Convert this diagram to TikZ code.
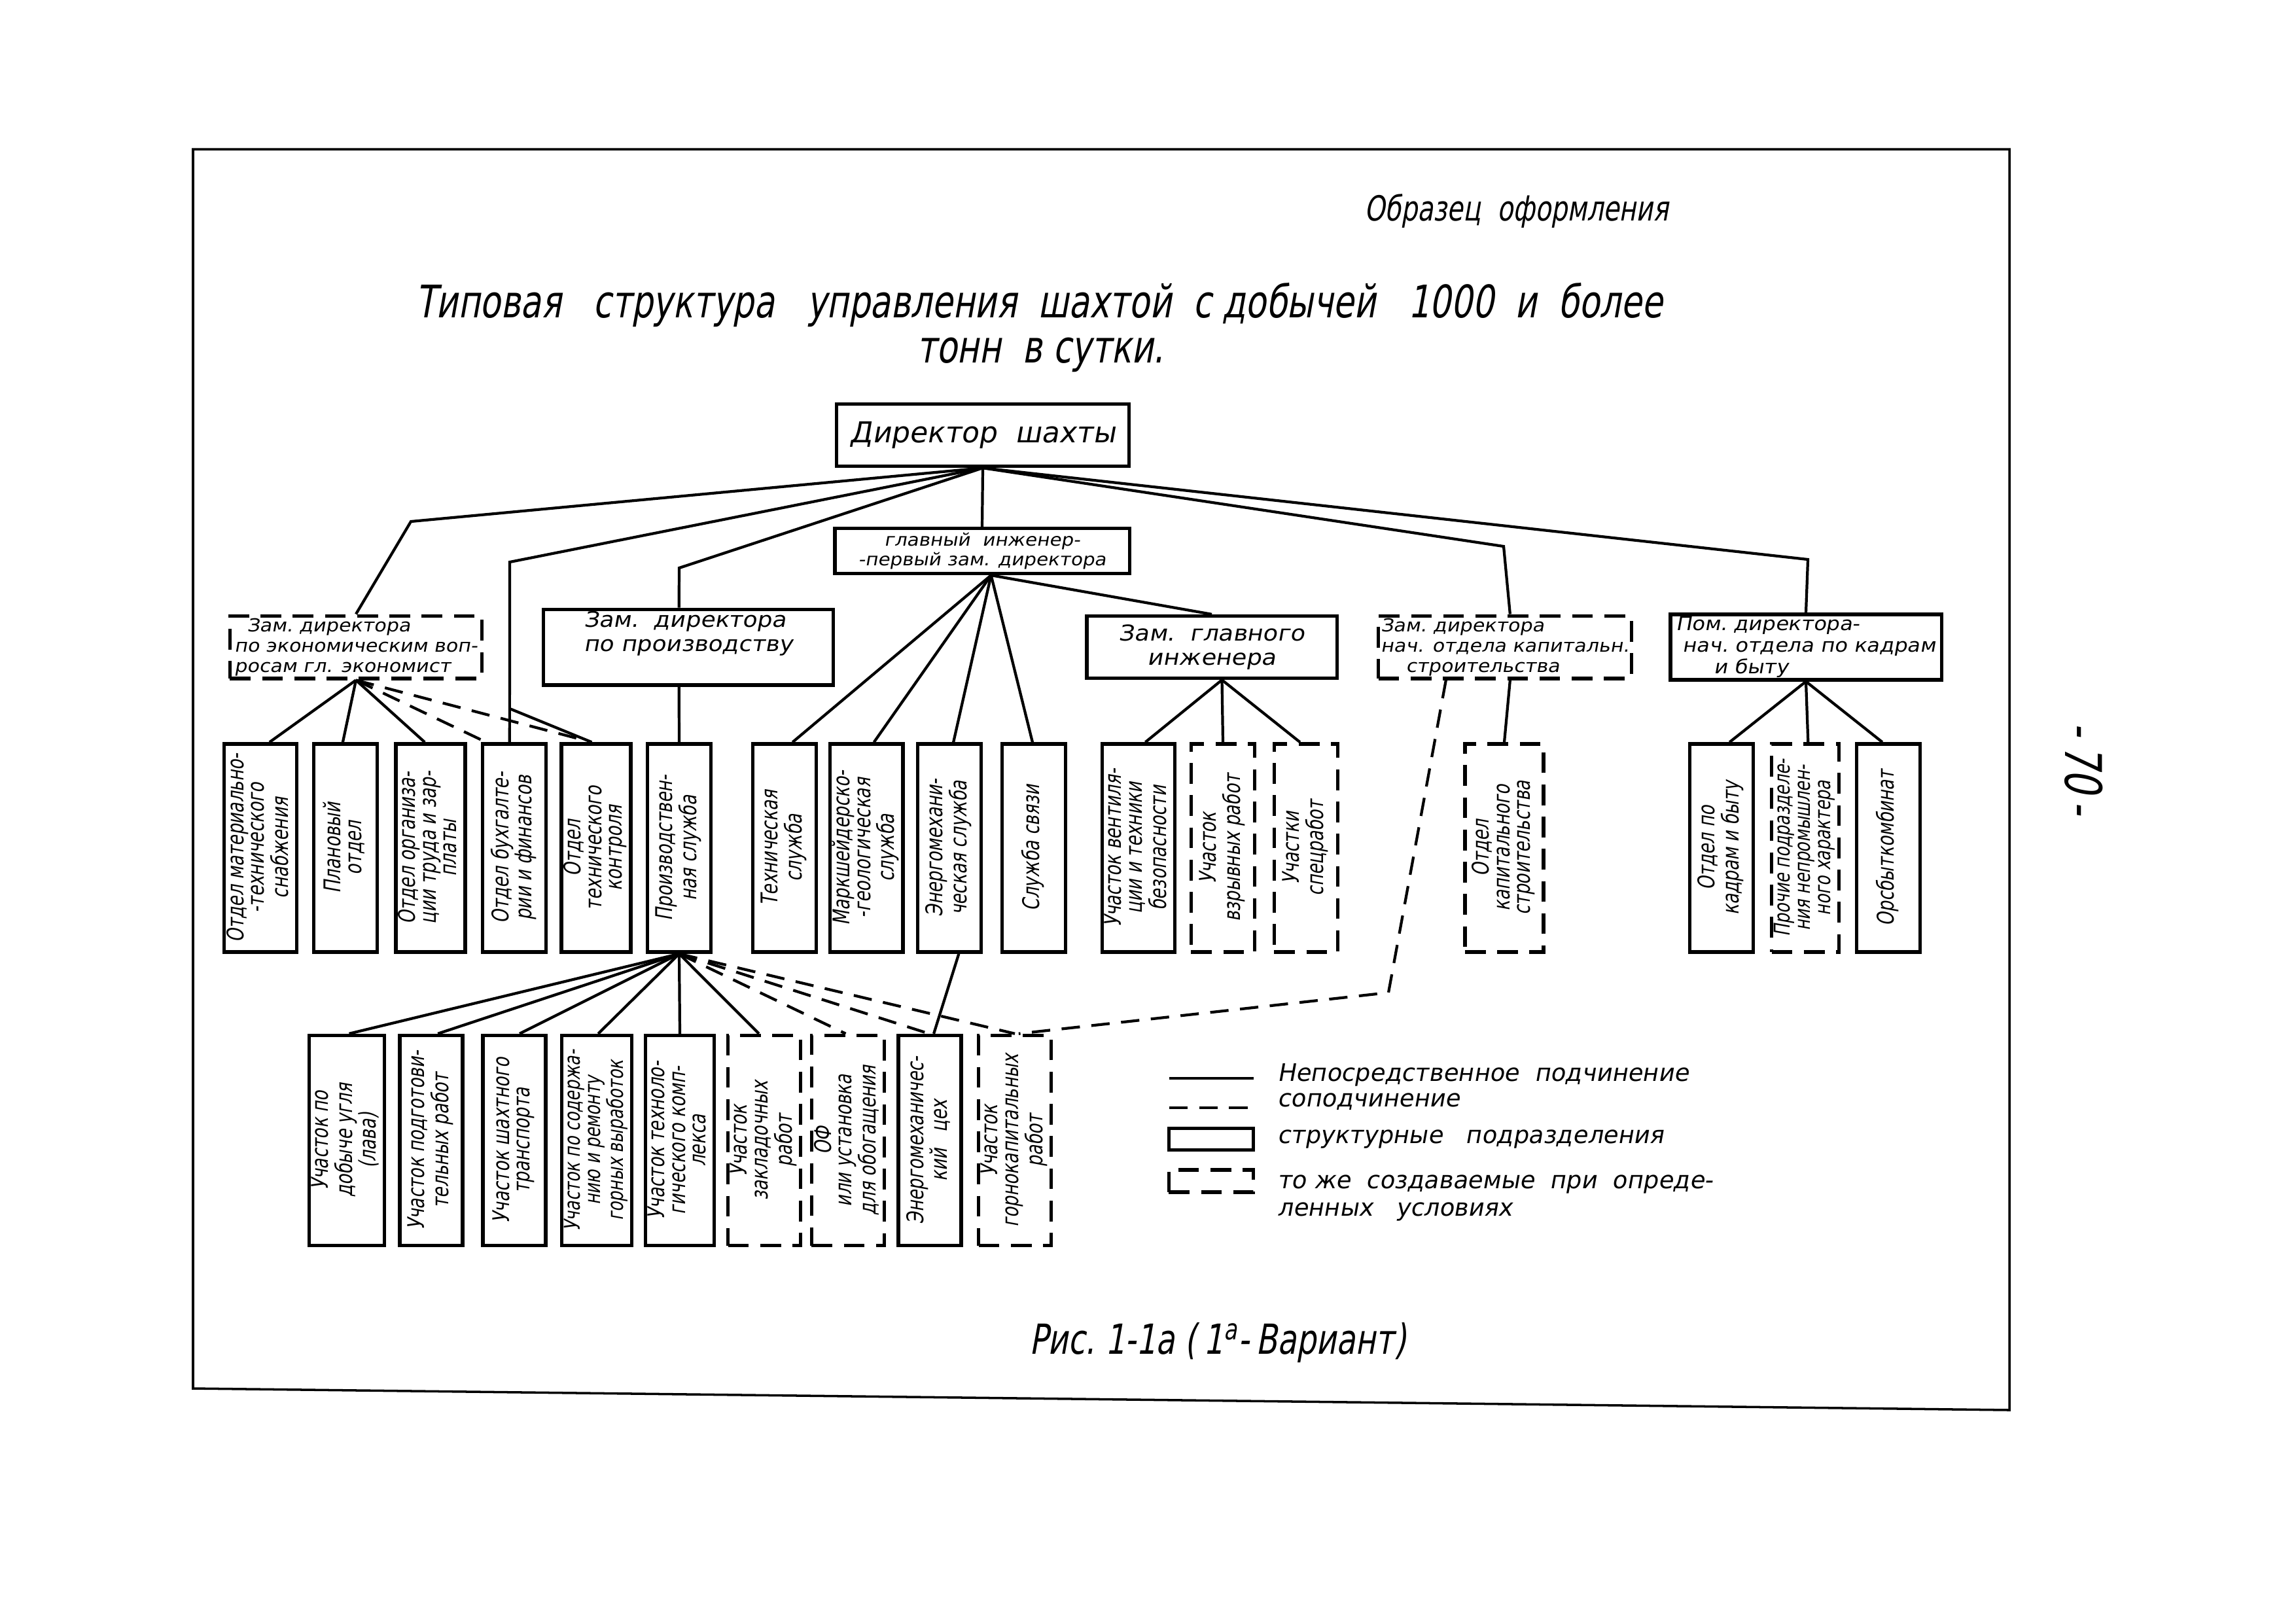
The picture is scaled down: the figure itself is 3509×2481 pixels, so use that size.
\documentclass[tikz,border=0pt]{standalone}
\usepackage{fontspec}
\usepackage{graphicx}
\setmainfont[FakeSlant=0.18]{DejaVu Sans}
\newfontfamily\narrowf[FakeStretch=0.75,FakeSlant=0.18]{DejaVu Sans}
\newfontfamily\widef[FakeStretch=1.1,FakeSlant=0.18]{DejaVu Sans}
\usetikzlibrary{calc}
\newcommand{\vtext}[1]{\rotatebox{90}{\begin{tabular}{@{}c@{}}#1\end{tabular}}}
\begin{document}
\begin{tikzpicture}[x=0.01cm,y=-0.01cm,
  box/.style={draw, line width=1.5pt, inner sep=1pt},
  dashbox/.style={box, dash pattern=on 9pt off 5pt},
  lvltwo/.style={minimum height=0.95cm, font=\widef\fontsize{8.3}{9.3}\selectfont, align=left},
  vb/.style={minimum height=3.18cm, minimum width=0.97cm, font=\narrowf\fontsize{10}{9}\selectfont},
  vbl/.style={minimum height=3.21cm, minimum width=0.96cm, font=\narrowf\fontsize{10}{9}\selectfont},
  conn/.style={line width=1.2pt},
  dconn/.style={conn, dash pattern=on 8pt off 5pt},
  legtext/.style={font=\fontsize{10.5}{12}\selectfont, anchor=west, align=left}]
\useasboundingbox (0,0) rectangle (3509,2481);

% frame
\draw[line width=1pt] (295,228) -- (3071,228) -- (3071,2155) -- (295,2122) -- cycle;

% headings
\node (obr) at (2318,322) {\narrowf\fontsize{15}{18}\selectfont Образец\ \ оформления};
\node (tit1) at (1588,466) {\narrowf\fontsize{19.5}{23}\selectfont Типовая\ \ \ структура\ \ \ управления\ \ шахтой\ \ с добычей\ \ \ 1000\ \ и\ \ более};
\node (tit2) at (1590,542) {\narrowf\fontsize{19.5}{23}\selectfont тонн\ \ в сутки.};

% level 1
\node[box, minimum width=4.47cm, minimum height=0.95cm, font=\fontsize{12.5}{14}\selectfont] (dir) at (1502,665) {Директор\ \ шахты};
\node[box, minimum width=4.5cm, minimum height=0.69cm, font=\widef\fontsize{7.6}{8.6}\selectfont, align=center] (chief) at (1501,842) {главный\ \ инженер-\\-первый зам. директора};

% level 2
\node[dashbox, lvltwo, minimum width=3.85cm, font=\widef\fontsize{7.8}{8.9}\selectfont] (econ) at (544,989) {\ \ Зам.\ директора\\по экономическим воп-\\росам гл. экономист};
\node[box, lvltwo, minimum width=4.43cm, font=\widef\fontsize{9.3}{10.5}\selectfont] (prod) at (1052,989) {Зам.\ \ директора\\по производству\\[3pt]};
\node[box, lvltwo, minimum width=3.82cm, font=\widef\fontsize{9.5}{10.5}\selectfont, align=center] (zgi) at (1852,989) {Зам.\ \ главного\\инженера};
\node[dashbox, lvltwo, minimum width=3.8cm, font=\widef\fontsize{7.8}{8.9}\selectfont] (kap) at (2300,989) {Зам.\ директора\\нач. отдела капитальн.\\\hspace*{1.4em}строительства};
\node[box, lvltwo, minimum width=4.14cm] (kadr) at (2760,989) {Пом.\ директора-\\\ нач.\ отдела по кадрам\\\hspace*{2em}и быту};

% level 3
\node[box, vb] (m1) at (398,1296) {\vtext{Отдел материально-\\-технического\\снабжения}};
\node[box, vb] (m2) at (528,1296) {\vtext{Плановый\\отдел}};
\node[box, vb] (m3) at (658,1296) {\vtext{Отдел организа-\\ции труда и зар-\\платы}};
\node[box, vb] (m4) at (786,1296) {\vtext{Отдел бухгалте-\\рии и финансов}};
\node[box, vb] (m5) at (911,1296) {\vtext{Отдел\\технического\\контроля}};
\node[box, vb] (m6) at (1038,1296) {\vtext{Производствен-\\ная служба}};
\node[box, vb] (m7) at (1199,1296) {\vtext{Техническая\\служба}};
\node[box, vb] (m8) at (1324,1296) {\vtext{Маркшейдерско-\\-геологическая\\служба}};
\node[box, vb] (m9) at (1451,1296) {\vtext{Энергомехани-\\ческая служба}};
\node[box, vb] (m10) at (1580,1296) {\vtext{Служба связи}};
\node[box, vb] (m11) at (1740,1296) {\vtext{Участок вентиля-\\ции и техники\\безопасности}};
\node[dashbox, vb] (m12) at (1869,1296) {\vtext{Участок\\взрывных работ}};
\node[dashbox, vb] (m13) at (1996,1296) {\vtext{Участки\\спецработ}};
\node[dashbox, vb, minimum width=1.2cm] (m14) at (2299,1296) {\vtext{Отдел\\капитального\\строительства}};
\node[box, vb] (m15) at (2631,1296) {\vtext{Отдел по\\кадрам и быту}};
\node[dashbox, vb, font=\narrowf\fontsize{9.5}{8.8}\selectfont] (m16) at (2759,1296) {\vtext{Прочие подразделе-\\ния непромышлен-\\ного характера}};
\node[box, vb] (m17) at (2886,1296) {\vtext{Орсбыткомбинат}};

% level 4
\node[box, vbl] (u1) at (530,1743) {\vtext{Участок по\\добыче угля\\(лава)}};
\node[box, vbl] (u2) at (659,1743) {\vtext{Участок подготови-\\тельных работ}};
\node[box, vbl] (u3) at (786,1743) {\vtext{Участок шахтного\\транспорта}};
\node[box, vbl, font=\narrowf\fontsize{9.5}{8.8}\selectfont] (u4) at (912,1743) {\vtext{Участок по содержа-\\нию и ремонту\\горных выработок}};
\node[box, vbl] (u5) at (1039,1743) {\vtext{Участок техноло-\\гического комп-\\лекса}};
\node[dashbox, vbl] (u6) at (1168,1743) {\vtext{Участок\\закладочных\\работ}};
\node[dashbox, vbl] (u7) at (1296,1743) {\vtext{ОФ\\или установка\\для обогащения}};
\node[box, vbl] (u8) at (1421,1743) {\vtext{Энергомеханичес-\\кий\ \ \ цех}};
\node[dashbox, vbl] (u9) at (1551,1743) {\vtext{Участок\\горнокапитальных\\работ}};

% director branches
\coordinate (v1) at (628,797);
\coordinate (v2) at (779,859);
\coordinate (v3) at (1038,868);
\coordinate (v4) at (2298,835);
\coordinate (v5) at (2763,855);
\coordinate (v2b) at (779,1083);
\draw[conn] (dir.south) -- (v1) -- ($(econ.north west)!0.5!(econ.north east)$);
\draw[conn] (dir.south) -- (v2) -- ($(m4.north west)!0.43!(m4.north east)$);
\draw[conn] (dir.south) -- (v3) -- ($(prod.north west)!0.468!(prod.north east)$);
\draw[conn] (dir.south) -- (chief.north);
\draw[conn] (dir.south) -- (v4) -- ($(kap.north west)!0.52!(kap.north east)$);
\draw[conn] (dir.south) -- (v5) -- ($(kadr.north west)!0.5!(kadr.north east)$);
\draw[conn] (v2b) -- ($(m5.north west)!0.44!(m5.north east)$);

% econ fan
\draw[conn] (econ.south) -- ($(m1.north west)!0.62!(m1.north east)$);
\draw[conn] (econ.south) -- ($(m2.north west)!0.46!(m2.north east)$);
\draw[conn] (econ.south) -- ($(m3.north west)!0.42!(m3.north east)$);
\draw[dconn] (econ.south) -- ($(m4.north west)!0.08!(m4.north east)$);
\draw[dconn] (econ.south) -- ($(m5.north west)!0.44!(m5.north east)$);

% prod
\draw[conn] ($(prod.south west)!0.468!(prod.south east)$) -- (m6.north);

% chief fan
\coordinate (cf) at ($(chief.south west)!0.53!(chief.south east)$);
\draw[conn] (cf) -- ($(m7.north west)!0.62!(m7.north east)$);
\draw[conn] (cf) -- ($(m8.north west)!0.6!(m8.north east)$);
\draw[conn] (cf) -- ($(m9.north west)!0.56!(m9.north east)$);
\draw[conn] (cf) -- ($(m10.north west)!0.48!(m10.north east)$);
\draw[conn] (cf) -- (zgi.north);

% zgi fan
\coordinate (zf) at ($(zgi.south west)!0.54!(zgi.south east)$);
\draw[conn] (zf) -- ($(m11.north west)!0.59!(m11.north east)$);
\draw[conn] (zf) -- (m12.north);
\draw[conn] (zf) -- ($(m13.north west)!0.41!(m13.north east)$);

% kap
\draw[conn] ($(kap.south west)!0.52!(kap.south east)$) -- (m14.north);
\coordinate (kv) at (2122,1517);
\draw[dconn] ($(kap.south west)!0.27!(kap.south east)$) -- (kv) -- ($(u9.north west)!0.55!(u9.north east)$);

% kadr fan
\draw[conn] (kadr.south) -- ($(m15.north west)!0.62!(m15.north east)$);
\draw[conn] (kadr.south) -- ($(m16.north west)!0.54!(m16.north east)$);
\draw[conn] (kadr.south) -- ($(m17.north west)!0.41!(m17.north east)$);

% production service fan
\draw[conn] (m6.south) -- ($(u1.north west)!0.53!(u1.north east)$);
\draw[conn] (m6.south) -- ($(u2.north west)!0.6!(u2.north east)$);
\draw[conn] (m6.south) -- ($(u3.north west)!0.58!(u3.north east)$);
\draw[conn] (m6.south) -- ($(u4.north west)!0.52!(u4.north east)$);
\draw[conn] (m6.south) -- (u5.north);
\draw[conn] (m6.south) -- ($(u6.north west)!0.43!(u6.north east)$);
\draw[dconn] (m6.south) -- ($(u7.north west)!0.47!(u7.north east)$);
\draw[dconn] (m6.south) -- ($(u8.north west)!0.49!(u8.north east)$);
\draw[dconn] (m6.south) -- ($(u9.north west)!0.5!(u9.north east)$);
\draw[conn] ($(m9.south west)!0.64!(m9.south east)$) -- ($(u8.north west)!0.56!(u8.north east)$);

% legend
\coordinate (la1) at (1787,1648);
\coordinate (la2) at (1916,1648);
\coordinate (lb1) at (1787,1693);
\coordinate (lb2) at (1916,1693);
\draw[conn] (la1) -- (la2);
\draw[dconn] (lb1) -- (lb2);
\node[box, minimum width=1.29cm, minimum height=0.33cm] (lc) at (1851,1741) {};
\node[dashbox, minimum width=1.29cm, minimum height=0.34cm] (ld) at (1851,1805) {};
\node[legtext] (lta) at (1940,1643) {Непосредственное\ \ подчинение};
\node[legtext] (ltb) at (1940,1684) {соподчинение};
\node[legtext] (ltc) at (1940,1741) {структурные\ \ \ подразделения};
\node[legtext, anchor=north west] (ltd) at (1940,1783) {то же\ \ создаваемые\ \ при\ \ опреде-\\ленных\ \ \ условиях};

% caption and page number
\node (cap) at (1861,2052) {\narrowf\fontsize{18}{22}\selectfont Рис.\ 1-1а\ (\,1\textsuperscript{а}-\,Вариант)};
\node[rotate=-90] (pg) at (3185,1175) {\narrowf\fontsize{22}{26}\selectfont -\,70\,-};
\end{tikzpicture}
\end{document}
